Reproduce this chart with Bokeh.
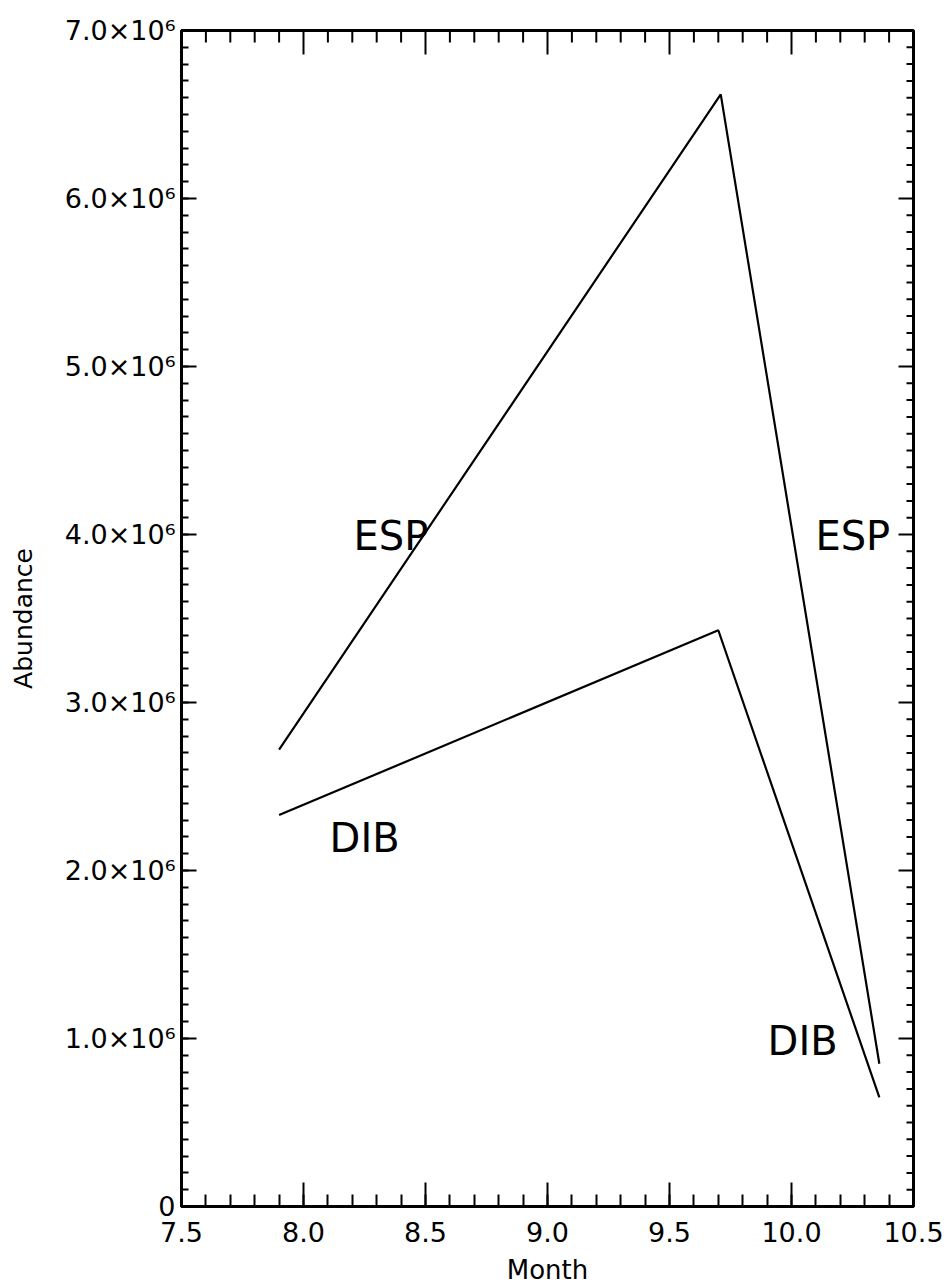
import math
import numpy as np
from bokeh.plotting import figure
from bokeh.models import Range1d, LinearAxis, SingleIntervalTicker, CustomJSTickFormatter, Label
from bokeh.embed import file_html
from bokeh.resources import INLINE

# Abundance through the season (month as decimal)
esp_month = [7.90, 9.71, 10.36]
esp_abundance = [2.72e6, 6.62e6, 0.85e6]

dib_month = [7.90, 9.70, 10.36]
dib_abundance = [2.33e6, 3.43e6, 0.65e6]

series_names = ["ESP", "DIB"]

X_MIN, X_MAX, X_MAJOR, X_MINOR = 7.5, 10.5, 0.5, 0.1
Y_MIN, Y_MAX, Y_MAJOR, Y_MINOR = 0.0, 7.0e6, 1.0e6, 1.0e5

FONT = "DejaVu Sans"

p = figure(
    width=948, height=1287,
    x_range=Range1d(X_MIN, X_MAX), y_range=Range1d(Y_MIN, Y_MAX),
    output_backend="svg", toolbar_location=None,
    min_border_left=181, min_border_right=35,
    min_border_top=30, min_border_bottom=81,
    x_axis_location=None, y_axis_location=None,
)
p.grid.visible = False
p.background_fill_color = "white"
p.border_fill_color = "white"
p.outline_line_color = "black"
p.outline_line_width = 3

x_fmt = CustomJSTickFormatter(code="return tick.toFixed(1);")
y_fmt = CustomJSTickFormatter(code="""
    if (tick == 0) { return "0"; }
    return (tick / 1e6).toFixed(1) + "\u00d710\u2076";
""")

# Bottom axis
xa = LinearAxis(ticker=SingleIntervalTicker(interval=X_MAJOR, num_minor_ticks=5), formatter=x_fmt)
xa.major_tick_in, xa.major_tick_out = 24, 0
xa.minor_tick_in, xa.minor_tick_out = 12, 0
xa.axis_line_width = 3
xa.major_tick_line_width = 2
xa.minor_tick_line_width = 2
xa.axis_label = "Month"
xa.axis_label_text_font = FONT
xa.axis_label_text_font_size = "26px"
xa.axis_label_text_font_style = "normal"
xa.axis_label_text_color = "black"
xa.axis_label_standoff = 10
xa.major_label_text_font = FONT
xa.major_label_text_font_size = "27px"
xa.major_label_text_color = "black"
xa.major_label_standoff = 15
p.add_layout(xa, "below")

# Left axis
ya = LinearAxis(ticker=SingleIntervalTicker(interval=Y_MAJOR, num_minor_ticks=10), formatter=y_fmt)
ya.major_tick_in, ya.major_tick_out = 15, 0
ya.minor_tick_in, ya.minor_tick_out = 7, 0
ya.axis_line_width = 3
ya.major_tick_line_width = 2
ya.minor_tick_line_width = 2
ya.axis_label = "Abundance"
ya.axis_label_text_font = FONT
ya.axis_label_text_font_size = "25px"
ya.axis_label_text_font_style = "normal"
ya.axis_label_text_color = "black"
ya.axis_label_standoff = 24
ya.major_label_text_font = FONT
ya.major_label_text_font_size = "27px"
ya.major_label_text_color = "black"
ya.major_label_standoff = 6
p.add_layout(ya, "left")

# Mirrored inward ticks along the top and right edges
x_major = np.round(np.arange(X_MIN, X_MAX + 1e-9, X_MAJOR), 6)
x_all = np.round(np.arange(X_MIN, X_MAX + 1e-9, X_MINOR), 6)
x_minor = [v for v in x_all if not np.any(np.isclose(v, x_major))]
y_major = np.arange(Y_MIN, Y_MAX + 1, Y_MAJOR)
y_all = np.arange(Y_MIN, Y_MAX + 1, Y_MINOR)
y_minor = [v for v in y_all if not np.any(np.isclose(v, y_major))]

p.ray(x=list(x_major), y=[Y_MAX] * len(x_major), length=24, angle=-math.pi / 2,
      length_units="screen", line_color="black", line_width=2)
p.ray(x=x_minor, y=[Y_MAX] * len(x_minor), length=12, angle=-math.pi / 2,
      length_units="screen", line_color="black", line_width=2)
p.ray(x=[X_MAX] * len(y_major), y=list(y_major), length=15, angle=math.pi,
      length_units="screen", line_color="black", line_width=2)
p.ray(x=[X_MAX] * len(y_minor), y=y_minor, length=7, angle=math.pi,
      length_units="screen", line_color="black", line_width=2)

p.line(esp_month, esp_abundance, line_color="black", line_width=2.2)
p.line(dib_month, dib_abundance, line_color="black", line_width=2.2)

# Series name tags placed beside each limb of the curves
tags = [
    (series_names[0], 8.205, 3.99e6),
    (series_names[0], 10.098, 3.99e6),
    (series_names[1], 8.107, 2.196e6),
    (series_names[1], 9.902, 0.988e6),
]
for name, tx, ty in tags:
    p.add_layout(Label(
        x=tx, y=ty, text=name,
        text_font=FONT, text_font_size="40px",
        text_color="black", text_align="left", text_baseline="alphabetic",
    ))

open("out.html", "w").write(file_html(p, INLINE))
